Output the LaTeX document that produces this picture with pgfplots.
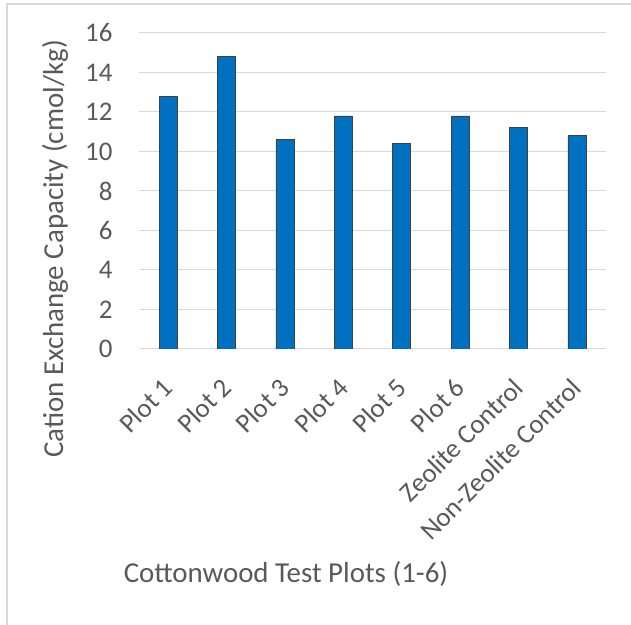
\documentclass[border=0pt]{standalone}
\usepackage{fontspec}
\setmainfont{Carlito}
\usepackage{pgfplots}
\pgfplotsset{compat=1.18}
\definecolor{barblue}{HTML}{0070C0}
\definecolor{txt}{HTML}{595959}
\definecolor{gridc}{HTML}{D9D9D9}
\definecolor{edge}{HTML}{404040}
\begin{document}
\begin{tikzpicture}[x=1bp,y=1bp]
\path[use as bounding box] (0,0) rectangle (631,625);
\draw[gridc, line width=1.5bp] (7,0) -- (7,621) -- (631,621);
\begin{axis}[
  at={(139bp,276bp)}, anchor=south west,
  scale only axis, width=467bp, height=316bp,
  ymin=0, ymax=16, ytick={0,2,...,16},
  xmin=-0.5, xmax=7.5, xtick=data,
  xticklabels={Plot 1,Plot 2,Plot 3,Plot 4,Plot 5,Plot 6,Zeolite Control,Non-Zeolite Control},
  ymajorgrids, grid style={gridc, line width=1bp},
  axis line style={draw=none}, major tick length=0pt,
  /pgf/number format/assume math mode=true,
  ticklabel style={font=\fontsize{27}{31}\selectfont, text=txt},
  yticklabel style={xshift=-23bp},
  xticklabel style={rotate=45, anchor=east, inner sep=0pt},
  xticklabel shift=34bp,
  ybar, bar width=18bp,
]
\addplot[fill=barblue, draw=edge, line width=0.6bp] coordinates {
(0,12.8) (1,14.8) (2,10.6) (3,11.8) (4,10.4) (5,11.8) (6,11.2) (7,10.8)};
\end{axis}
\node[text=txt, font=\fontsize{29}{34}\selectfont] at (286,51) {Cottonwood Test Plots (1-6)};
\node[text=txt, font=\fontsize{29}{34}\selectfont, rotate=90] at (55,376) {Cation Exchange Capacity (cmol/kg)};
\end{tikzpicture}
\end{document}
